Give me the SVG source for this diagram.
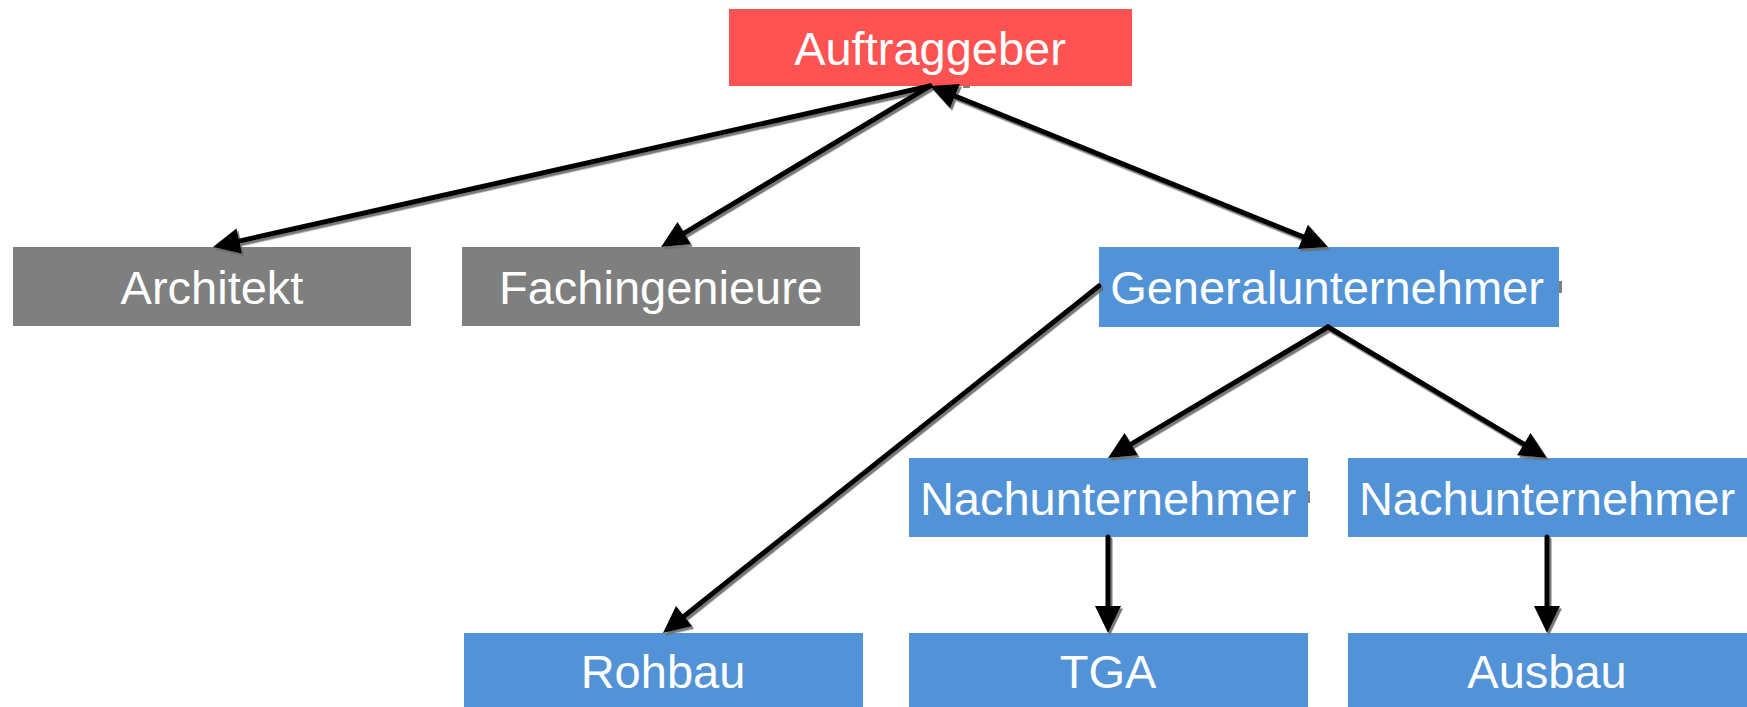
<svg xmlns="http://www.w3.org/2000/svg" width="1747" height="707" viewBox="0 0 1747 707">
<defs>
<style>
.red{fill:#FF5353}
.grey{fill:#7F7F7F}
.blue{fill:#5292D7}
.lbl{fill:#FFFFFF;font-family:"Liberation Sans",Arial,sans-serif;font-size:47px;text-anchor:middle}
.con{stroke:#000;stroke-width:5;fill:none;stroke-linecap:round}
.tick{fill:#808080}
</style>
<marker id="ah" markerUnits="userSpaceOnUse" markerWidth="28" markerHeight="28" refX="0" refY="13" orient="auto-start-reverse" overflow="visible">
<path d="M0,0 L27,13 L0,26 Z" fill="#000"/>
</marker>
<filter id="sh" x="-5%" y="-5%" width="110%" height="110%">
<feDropShadow dx="2" dy="2.5" stdDeviation="0.6" flood-color="#6a6a6a" flood-opacity="0.9"/>
</filter>
</defs>
<rect width="1747" height="707" fill="#FFFFFF"/>

<g id="n-auftraggeber"><rect class="red" x="729" y="9" width="403" height="77"/><text class="lbl" x="930" y="64.5">Auftraggeber</text></g>
<g id="n-architekt"><rect class="grey" x="13" y="247" width="398" height="79"/><text class="lbl" x="212" y="303.5">Architekt</text></g>
<g id="n-fachingenieure"><rect class="grey" x="462" y="247" width="398" height="79"/><text class="lbl" x="661" y="303.5">Fachingenieure</text></g>
<g id="n-generalunternehmer"><rect class="blue" x="1099" y="247" width="460" height="80"/><text class="lbl" x="1327" y="304">Generalunternehmer</text></g>
<g id="n-nachunternehmer1"><rect class="blue" x="909" y="458" width="399" height="79"/><text class="lbl" x="1108" y="514.5">Nachunternehmer</text></g>
<g id="n-nachunternehmer2"><rect class="blue" x="1348" y="458" width="399" height="79"/><text class="lbl" x="1547" y="514.5">Nachunternehmer</text></g>
<g id="n-rohbau"><rect class="blue" x="464" y="633" width="399" height="74"/><text class="lbl" x="663" y="688">Rohbau</text></g>
<g id="n-tga"><rect class="blue" x="909" y="633" width="399" height="74"/><text class="lbl" x="1108" y="688">TGA</text></g>
<g id="n-ausbau"><rect class="blue" x="1348" y="633" width="399" height="74"/><text class="lbl" x="1547" y="688">Ausbau</text></g>

<g id="ticks">
<rect class="tick" x="963" y="86" width="7" height="2"/>
<rect class="tick" x="1559" y="281" width="3" height="12"/>
<rect class="tick" x="1308" y="491" width="2" height="12"/>
</g>

<g id="connectors" filter="url(#sh)">
<line class="con" x1="930" y1="86" x2="239.3" y2="241.1" marker-end="url(#ah)"/>
<line class="con" x1="930" y1="86" x2="684.2" y2="233.1" marker-end="url(#ah)"/>
<line class="con" x1="955" y1="96.1" x2="1303" y2="236.9" marker-start="url(#ah)" marker-end="url(#ah)"/>
<line class="con" x1="1099" y1="286" x2="684.1" y2="616.2" marker-end="url(#ah)"/>
<line class="con" x1="1328" y1="327" x2="1131.2" y2="444.2" marker-end="url(#ah)"/>
<line class="con" x1="1328" y1="327" x2="1523.8" y2="444.1" marker-end="url(#ah)"/>
<line class="con" x1="1108" y1="537" x2="1108" y2="606" marker-end="url(#ah)"/>
<line class="con" x1="1547" y1="537" x2="1547" y2="606" marker-end="url(#ah)"/>
</g>
</svg>
